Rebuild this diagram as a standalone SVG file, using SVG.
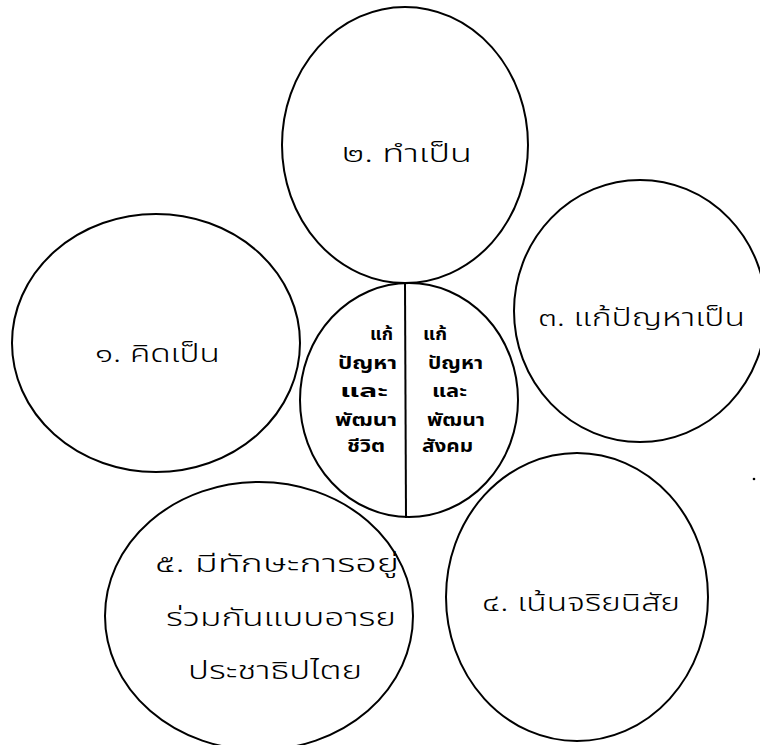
<svg xmlns="http://www.w3.org/2000/svg" width="760" height="745" viewBox="0 0 760 745">
<style>
.c{fill:none;stroke:#000;stroke-width:2}
.t{font-family:"Noto Sans Thai","Noto Sans","DejaVu Sans",sans-serif;font-size:25px;fill:#000;font-weight:300}
.m{font-family:"Noto Sans Thai","Noto Sans","DejaVu Sans",sans-serif;font-size:18px;font-weight:bold;fill:#000}
</style>
<rect width="760" height="745" fill="#fff"/>
<g id="n2"><ellipse class="c" cx="405" cy="145" rx="123" ry="138"/><text class="t" x="342" y="162" textLength="130" lengthAdjust="spacingAndGlyphs">๒. ทำเป็น</text></g>
<g id="n1"><ellipse class="c" cx="156" cy="343" rx="144" ry="129"/><text class="t" x="95" y="362" textLength="125" lengthAdjust="spacingAndGlyphs">๑. คิดเป็น</text></g>
<g id="n3"><ellipse class="c" cx="640" cy="311" rx="126" ry="131"/><text class="t" x="538" y="326" textLength="207" lengthAdjust="spacingAndGlyphs">๓. แก้ปัญหาเป็น</text></g>
<g id="n4"><ellipse class="c" cx="577" cy="597" rx="131" ry="144"/><text class="t" x="482" y="611" textLength="198" lengthAdjust="spacingAndGlyphs">๔. เน้นจริยนิสัย</text></g>
<g id="n5"><ellipse class="c" cx="259" cy="616" rx="154" ry="134"/>
<text class="t" x="155" y="572" textLength="244" lengthAdjust="spacingAndGlyphs">๕. มีทักษะการอยู่</text>
<text class="t" x="166" y="626" textLength="230" lengthAdjust="spacingAndGlyphs">ร่วมกันแบบอารย</text>
<text class="t" x="188" y="679" textLength="174" lengthAdjust="spacingAndGlyphs">ประชาธิปไตย</text></g>
<g id="center"><ellipse class="c" cx="409" cy="400" rx="109" ry="117"/>
<line x1="405" y1="283" x2="406" y2="518" stroke="#000" stroke-width="2"/>
<text class="m" x="370" y="340" textLength="23" lengthAdjust="spacingAndGlyphs">แก้</text>
<text class="m" x="338" y="369" textLength="59" lengthAdjust="spacingAndGlyphs">ปัญหา</text>
<text class="m" x="340" y="397" textLength="48" lengthAdjust="spacingAndGlyphs">และ</text>
<text class="m" x="335" y="426" textLength="62" lengthAdjust="spacingAndGlyphs">พัฒนา</text>
<text class="m" x="347" y="452" textLength="38" lengthAdjust="spacingAndGlyphs">ชีวิต</text>
<text class="m" x="423" y="340" textLength="24" lengthAdjust="spacingAndGlyphs">แก้</text>
<text class="m" x="428" y="369" textLength="55" lengthAdjust="spacingAndGlyphs">ปัญหา</text>
<text class="m" x="432" y="397" textLength="35" lengthAdjust="spacingAndGlyphs">และ</text>
<text class="m" x="427" y="426" textLength="58" lengthAdjust="spacingAndGlyphs">พัฒนา</text>
<text class="m" x="422" y="452" textLength="51" lengthAdjust="spacingAndGlyphs">สังคม</text>
</g>
<g id="connectors"></g>
<circle cx="754" cy="479" r="1.3" fill="#000"/>
</svg>
